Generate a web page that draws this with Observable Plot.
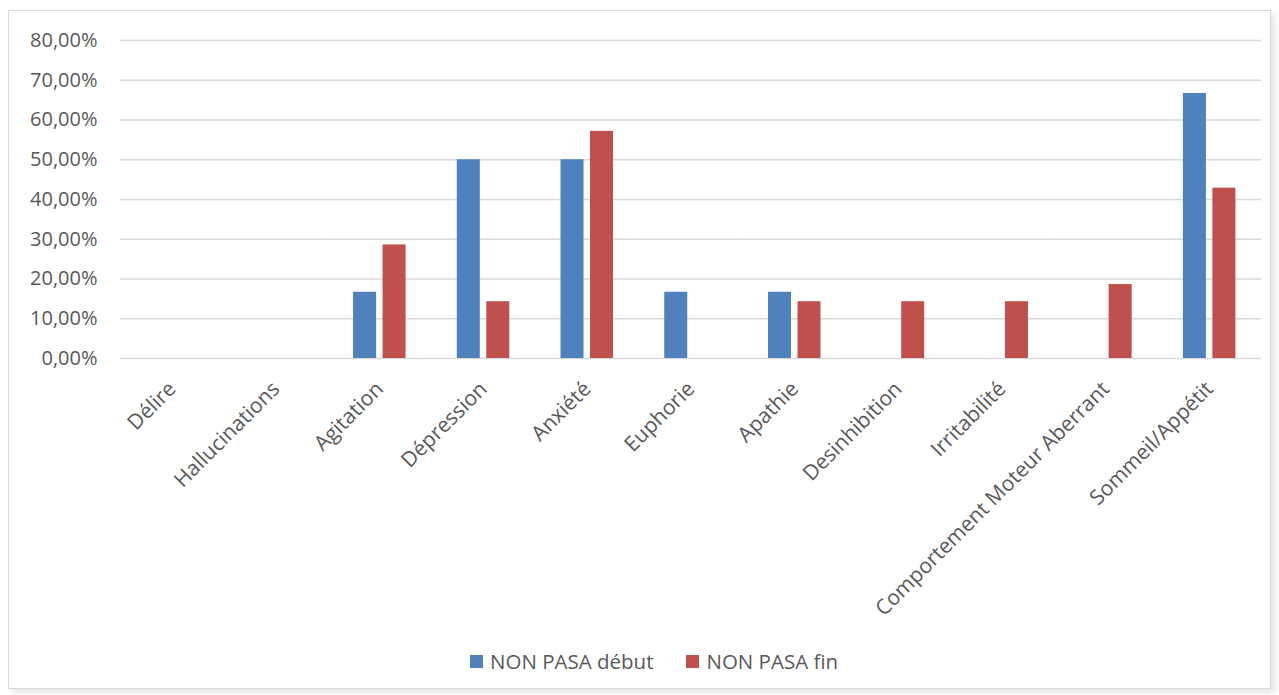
<!DOCTYPE html>
<html>
<head>
<meta charset="utf-8">
<script src="https://cdn.jsdelivr.net/npm/d3@7"></script>
<script src="https://cdn.jsdelivr.net/npm/@observablehq/plot@0.6"></script>
<style>
  html, body { margin: 0; padding: 0; background: #fff; }
  body { font-family: "Open Sans", sans-serif; width: 1279px; height: 695px; position: relative; overflow: hidden; }
  #frame {
    position: absolute; left: 8px; top: 10px; width: 1261px; height: 677px;
    border: 1px solid #d9d9d9; background: #fff;
    box-shadow: 4px 4px 6px rgba(0,0,0,0.10);
  }
  #chart { position: absolute; left: 0; top: 0; }
  #legend {
    position: absolute; left: 461px; top: 636px;
    display: flex; align-items: center; font-size: 20.5px; color: #595959; white-space: nowrap;
  }
  #legend .item { display: flex; align-items: center; }
  #legend .item + .item { margin-left: 33px; }
  #legend .sw { width: 13px; height: 13px; margin-right: 7px; }
</style>
</head>
<body>
<div id="frame">
  <div id="chart"></div>
  <div id="legend"></div>
</div>
<script>
// Symptômes NPI, proportion de résidents concernés (en %)
const categories = [
  "Délire", "Hallucinations", "Agitation", "Dépression", "Anxiété", "Euphorie",
  "Apathie", "Desinhibition", "Irritabilité", "Comportement Moteur Aberrant", "Sommeil/Appétit"
];
const series = ["NON PASA début", "NON PASA fin"];
const debut = [0, 0, 16.67, 50, 50, 16.67, 16.67, 0, 0, 0, 66.67];
const fin   = [0, 0, 28.57, 14.29, 57.14, 0, 14.29, 14.29, 14.29, 18.6, 42.86];
const yTicks = [0, 10, 20, 30, 40, 50, 60, 70, 80];
const colors = ["#4f81bd", "#c0504d"];

const rows = categories.flatMap((c, i) => [
  { cat: c, serie: series[0], v: debut[i] / 100 },
  { cat: c, serie: series[1], v: fin[i] / 100 }
]);

const fmt = d => (d * 100).toFixed(2).replace(".", ",") + "%";
const ticks = yTicks.map(t => t / 100);

const chart = Plot.plot({
  width: 1261,
  height: 630,
  marginLeft: 111,
  marginRight: 9,
  marginTop: 29,
  marginBottom: 283,
  style: { fontFamily: "'Open Sans', sans-serif", color: "#595959", background: "transparent" },
  fx: { domain: categories, padding: 0, round: false },
  x: { domain: series, paddingInner: 0.22, paddingOuter: 0.868, round: false, axis: null },
  y: { domain: [0, 0.8] },
  color: { domain: series, range: colors },
  marks: [
    Plot.gridY(ticks, { stroke: "#d9d9d9", strokeOpacity: 1, strokeWidth: 1.4 }),
    Plot.barY(rows, { fx: "cat", x: "serie", y: "v", fill: "serie" }),
    Plot.axisY(ticks, {
      tickFormat: fmt, tickSize: 0, tickPadding: 23, fontSize: 20, fill: "#595959", label: null
    }),
    Plot.axisFx({
      anchor: "bottom", tickRotate: -45, tickSize: 0, tickPadding: 27, fontSize: 21, fill: "#595959", label: null
    })
  ]
});
document.getElementById("chart").appendChild(chart);

const legend = document.getElementById("legend");
series.forEach((s, i) => {
  const item = document.createElement("div");
  item.className = "item";
  const sw = document.createElement("span");
  sw.className = "sw";
  sw.style.background = colors[i];
  const label = document.createElement("span");
  label.textContent = s;
  item.appendChild(sw);
  item.appendChild(label);
  legend.appendChild(item);
});
</script>
</body>
</html>
